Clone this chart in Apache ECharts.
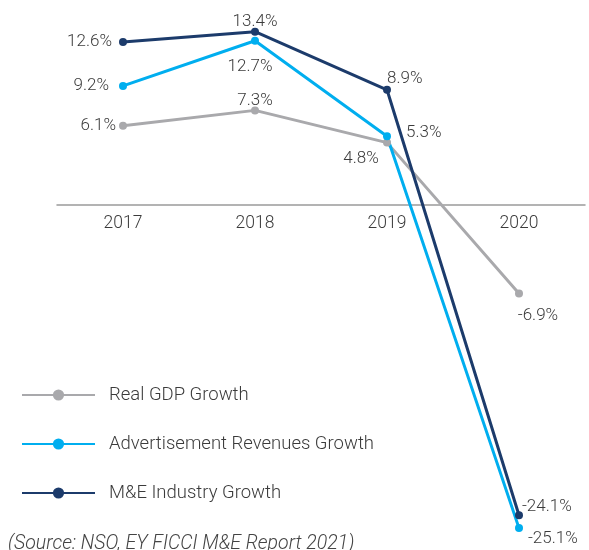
<!DOCTYPE html>
<html>
<head>
<meta charset="utf-8">
<script src="https://cdn.jsdelivr.net/npm/echarts@6/dist/echarts.min.js"></script>
<style>
  html, body { margin: 0; padding: 0; background: #fff; }
  #chart { width: 589px; height: 550px; }
</style>
</head>
<body>
<div id="chart"></div>
<script>
  // values
  const years = ['2017', '2018', '2019', '2020']
  const gdpGrowth = [6.1, 7.3, 4.8, -6.9]
  const adGrowth = [9.2, 12.7, 5.3, -25.1]
  const meGrowth = [12.6, 13.4, 8.9, -24.1]
  const seriesNames = ['Real GDP Growth', 'Advertisement Revenues Growth', 'M&E Industry Growth']
  const sourceNote = '(Source: NSO, EY FICCI M&E Report 2021)'

  const font = 'Roboto, "DejaVu Sans", sans-serif'
  const textColor = '#3b3b3b'

  // where each point's label sits, per series (same order as years)
  const gdpLabels = [
    { position: 'left', distance: 3 },
    { position: 'top', distance: -3 },
    { position: 'bottom', distance: 4, offset: [-26, 0] },
    { position: 'bottom', distance: 10, offset: [19, 0] },
  ]
  const adLabels = [
    { position: 'left', distance: 10 },
    { position: 'bottom', distance: 13, offset: [-5, 0] },
    { position: 'right', distance: 15, offset: [0, -3] },
    { position: 'right', distance: 5, offset: [0, 11] },
  ]
  const meLabels = [
    { position: 'left', distance: 7 },
    { position: 'top', distance: -3 },
    { position: 'right', distance: 0, offset: [-4, -11] },
    { position: 'right', distance: 0, offset: [-1, -8] },
  ]

  function makeSeries(name, values, color, labels) {
    return {
      name: name,
      type: 'line',
      clip: false,
      data: values.map((v, i) => ({ value: v, label: labels[i] })),
      symbol: 'circle',
      symbolSize: 8,
      lineStyle: { width: 3, color: color },
      itemStyle: { color: color },
      label: {
        show: true,
        color: textColor,
        fontFamily: font,
        fontSize: 17,
        fontWeight: 300,
        formatter: p => p.value.toFixed(1) + '%',
      },
    }
  }

  const chart = echarts.init(document.getElementById('chart'))
  chart.setOption({
    animation: false,
    // grid ends at the zero line; the 2020 drop is drawn below it (clip off)
    grid: { left: 57, right: 4, top: 24, bottom: 345.5, outerBoundsMode: 'none' },
    title: {
      text: sourceNote,
      left: 8,
      top: 534,
      padding: 0,
      textStyle: {
        fontFamily: font,
        fontSize: 19.5,
        fontWeight: 300,
        fontStyle: 'italic',
        color: '#444',
      },
    },
    legend: {
      orient: 'vertical',
      left: 21,
      top: 385,
      padding: 0,
      itemWidth: 73,
      itemHeight: 14,
      itemGap: 29,
      textStyle: {
        fontFamily: font,
        fontSize: 18.5,
        fontWeight: 300,
        color: textColor,
        lineHeight: 20,
        padding: [0, 0, 0, 9],
      },
      data: seriesNames,
    },
    xAxis: {
      type: 'category',
      data: years,
      axisLine: { lineStyle: { color: '#9a9a9a', width: 1.5 } },
      axisTick: { show: false },
      axisLabel: {
        color: textColor,
        fontFamily: font,
        fontSize: 17.5,
        fontWeight: 300,
        margin: 10,
      },
    },
    yAxis: {
      type: 'value',
      min: 0,
      max: 14,
      show: false,
      splitLine: { show: false },
    },
    series: [
      makeSeries(seriesNames[0], gdpGrowth, '#a9a9ac', gdpLabels),
      makeSeries(seriesNames[1], adGrowth, '#00aeef', adLabels),
      makeSeries(seriesNames[2], meGrowth, '#1c3b6b', meLabels),
    ],
  })
</script>
</body>
</html>
